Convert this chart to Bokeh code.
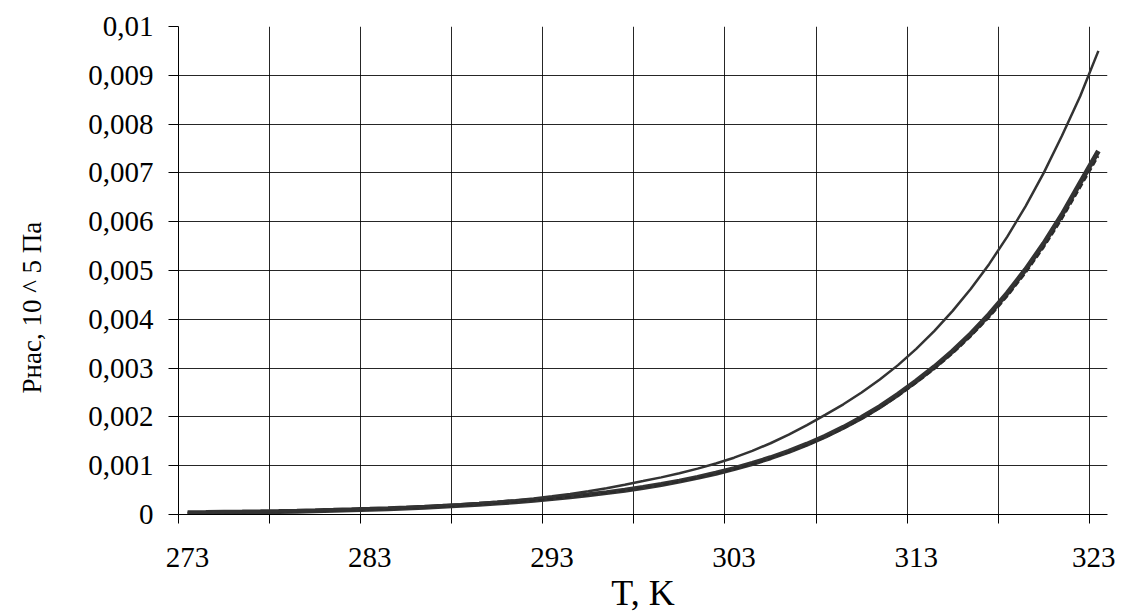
from bokeh.plotting import figure
from bokeh.models import Range1d, FixedTicker, LinearAxis, CustomJSTickFormatter
from bokeh.embed import file_html
from bokeh.resources import INLINE

# ---- data ----
T = list(range(273, 324))

p_thin = [0.0000370, 0.0000415, 0.0000466, 0.0000523, 0.0000587, 0.0000658, 0.0000739,
          0.0000829, 0.0000930, 0.000104, 0.000117, 0.000131, 0.000147, 0.000165,
          0.000186, 0.000208, 0.000234, 0.000262, 0.000294, 0.000330, 0.000372,
          0.000421, 0.000477, 0.000540, 0.000611, 0.000685, 0.000761, 0.000846,
          0.000940, 0.001044, 0.001164, 0.001304, 0.001460, 0.001635, 0.001832,
          0.002041, 0.002258, 0.002499, 0.002766, 0.003061, 0.003395, 0.003764,
          0.004173, 0.004627, 0.005130, 0.005694, 0.006316, 0.007000, 0.007760,
          0.008570, 0.009500]

p_thick = [0.0000350, 0.0000391, 0.0000438, 0.0000490, 0.0000548, 0.0000612, 0.0000685,
           0.0000766, 0.0000857, 0.0000958, 0.000107, 0.000120, 0.000134, 0.000150,
           0.000168, 0.000187, 0.000210, 0.000234, 0.000262, 0.000293, 0.000327,
           0.000363, 0.000403, 0.000448, 0.000498, 0.000554, 0.000615, 0.000684,
           0.000760, 0.000845, 0.000939, 0.001045, 0.001163, 0.001295, 0.001441,
           0.001604, 0.001786, 0.001988, 0.002212, 0.002463, 0.002735, 0.003026,
           0.003348, 0.003705, 0.004099, 0.004536, 0.005019, 0.005553, 0.006145,
           0.006799, 0.007450]

p_dash = [0.0000347, 0.0000387, 0.0000434, 0.0000485, 0.0000543, 0.0000606, 0.0000678,
          0.0000758, 0.0000848, 0.0000948, 0.000106, 0.000119, 0.000133, 0.000148,
          0.000166, 0.000185, 0.000208, 0.000232, 0.000259, 0.000290, 0.000324,
          0.000359, 0.000399, 0.000443, 0.000493, 0.000548, 0.000609, 0.000674,
          0.000749, 0.000832, 0.000925, 0.001029, 0.001146, 0.001276, 0.001419,
          0.001580, 0.001759, 0.001958, 0.002179, 0.002426, 0.002694, 0.002981,
          0.003298, 0.003649, 0.004038, 0.004468, 0.004944, 0.005470, 0.006053,
          0.006697, 0.007340]

x_label_ticks = [273, 283, 293, 303, 313, 323]
x_grid_ticks = [272.5, 277.5, 282.5, 287.5, 292.5, 297.5, 302.5, 307.5, 312.5, 317.5, 322.5]
y_ticks = [0, 0.001, 0.002, 0.003, 0.004, 0.005, 0.006, 0.007, 0.008, 0.009, 0.01]

x_title = "T, K"
y_title = "Pнас, 10 ^ 5 Па"

FONT = "Liberation Serif"

p = figure(frame_width=929, frame_height=488,
           output_backend="svg", toolbar_location=None,
           x_range=Range1d(272.5, 323.5), y_range=Range1d(0, 0.01),
           min_border_left=178, min_border_right=8, min_border_top=26, min_border_bottom=60)
p.outline_line_color = None
p.background_fill_color = "white"
p.border_fill_color = "white"

# grids
p.xgrid.ticker = FixedTicker(ticks=x_grid_ticks)
p.ygrid.ticker = FixedTicker(ticks=y_ticks)
for g in (p.xgrid[0], p.ygrid[0]):
    g.grid_line_color = "black"
    g.grid_line_alpha = 0.85
    g.grid_line_width = 1

# x axis with tick marks only
xa = p.xaxis[0]
xa.ticker = FixedTicker(ticks=x_grid_ticks)
xa.formatter = CustomJSTickFormatter(code="return '';")
xa.major_tick_out = 9
xa.major_tick_in = 0
xa.minor_tick_line_color = None
xa.major_label_standoff = 0
xa.major_label_text_font_size = "1px"
xa.axis_line_color = "black"
xa.major_tick_line_color = "black"

# x axis carrying the labels
xl = LinearAxis(ticker=FixedTicker(ticks=x_label_ticks))
xl.axis_line_color = None
xl.major_tick_line_color = None
xl.minor_tick_line_color = None
xl.major_tick_out = 0
xl.major_tick_in = 0
xl.major_label_standoff = 24
xl.major_label_text_font = FONT
xl.major_label_text_font_size = "29px"
xl.major_label_text_color = "black"
xl.axis_label = x_title
xl.axis_label_text_font = FONT
xl.axis_label_text_font_size = "36px"
xl.axis_label_text_font_style = "normal"
xl.axis_label_text_color = "black"
xl.axis_label_standoff = 3
p.add_layout(xl, "below")

# y axis
ya = p.yaxis[0]
ya.ticker = FixedTicker(ticks=y_ticks)
ya.formatter = CustomJSTickFormatter(code="""
var s = tick.toFixed(3).replace(/0+$/, '').replace(/\\.$/, '');
return s.replace('.', ',');
""")
ya.major_tick_out = 10
ya.major_tick_in = 0
ya.minor_tick_line_color = None
ya.major_label_standoff = 15
ya.major_label_text_font = FONT
ya.major_label_text_font_size = "29px"
ya.major_label_text_color = "black"
ya.axis_line_color = "black"
ya.major_tick_line_color = "black"
# trailing no-break spaces shift the title a little below the frame centre
ya.axis_label = y_title + "\u00a0" * 11
ya.axis_label_text_font = FONT
ya.axis_label_text_font_size = "27px"
ya.axis_label_text_font_style = "normal"
ya.axis_label_text_color = "black"
ya.axis_label_standoff = 38

# curves
p.line(T, p_thick, line_color="#333333", line_width=5)
p.line(T, p_dash, line_color="#2a2a2a", line_width=2, line_dash="6 3")
p.line(T, p_thin, line_color="#333333", line_width=2.5)

open("out.html", "w").write(file_html(p, INLINE))
